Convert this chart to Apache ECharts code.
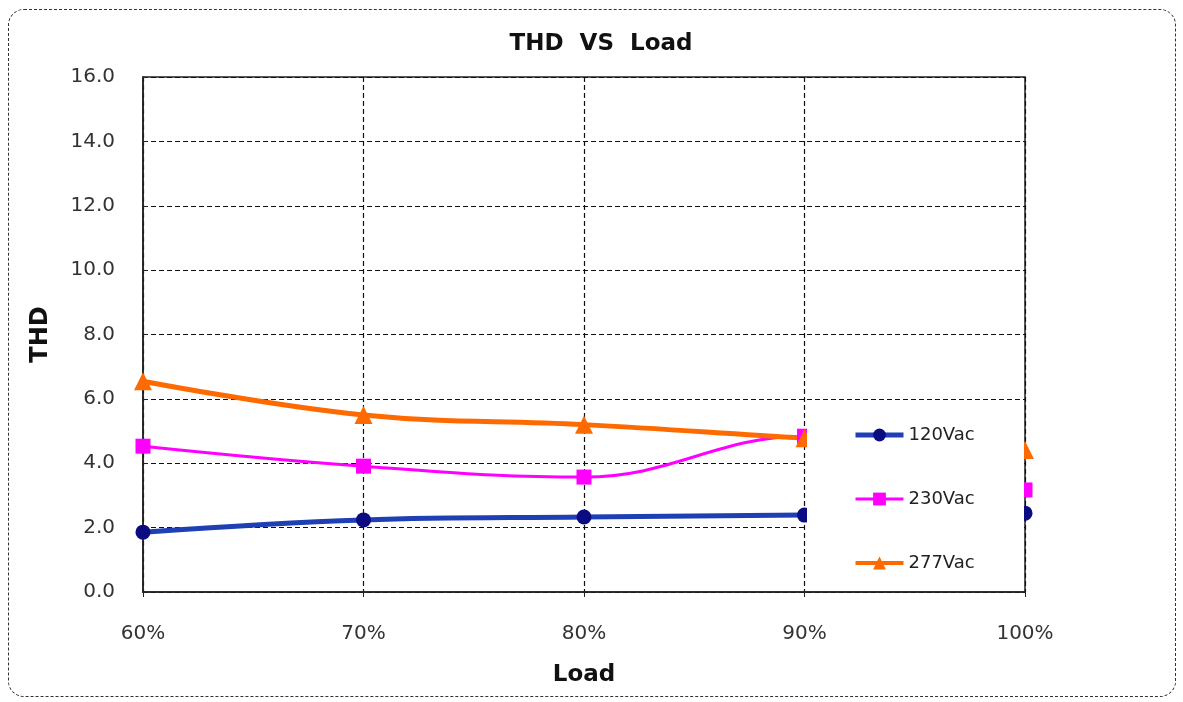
<!DOCTYPE html>
<html>
<head>
<meta charset="utf-8">
<title>THD VS Load</title>
<script src="https://cdn.jsdelivr.net/npm/echarts@6/dist/echarts.min.js"></script>
<style>
  html, body { margin: 0; padding: 0; background: #fff; }
  #chart { position: absolute; left: 0; top: 0; width: 1183px; height: 702px; }
  .frame {
    position: absolute; left: 8px; top: 9px; width: 1166px; height: 686px;
    border: 1.5px dashed #333; border-radius: 16px; pointer-events: none;
  }
</style>
</head>
<body>
<div id="chart"></div>
<div class="frame"></div>
<script>
const loads = ['60%', '70%', '80%', '90%', '100%']
const thd120 = [1.86, 2.24, 2.33, 2.39, 2.45]
const thd230 = [4.53, 3.91, 3.57, 4.84, 3.17]
const thd277 = [6.55, 5.50, 5.20, 4.78, 4.41]
const seriesNames = ['120Vac', '230Vac', '277Vac']

const font = 'DejaVu Sans'
const chart = echarts.init(document.getElementById('chart'))

const option = {
  animation: false,
  title: {
    text: 'THD  VS  Load',
    left: 596,
    textAlign: 'center',
    top: 28,
    textStyle: { fontFamily: font, fontSize: 23, fontWeight: 'bold', color: '#111' }
  },
  grid: {
    left: 143, right: 158, top: 77, bottom: 110,
    show: true, borderColor: '#222', borderWidth: 1.5
  },
  graphic: [{
    // white box behind the legend, it hides the last segment like the original
    type: 'rect', z: 10,
    shape: { x: 807, y: 400, width: 217, height: 191 },
    style: { fill: '#fff' }
  }],
  legend: {
    orient: 'vertical',
    left: 848, top: 421,
    z: 11,
    itemWidth: 48, itemHeight: 16, itemGap: 46,
    data: [
      { name: seriesNames[0], lineStyle: { width: 5 } },
      { name: seriesNames[1], lineStyle: { width: 3 } },
      { name: seriesNames[2], lineStyle: { width: 4 } }
    ],
    textStyle: { fontFamily: font, fontSize: 18, color: '#222' }
  },
  xAxis: {
    type: 'category',
    data: loads,
    boundaryGap: false,
    name: 'Load',
    nameLocation: 'middle',
    nameGap: 72,
    nameTextStyle: { fontFamily: font, fontSize: 23, fontWeight: 'bold', color: '#111' },
    axisLine: { lineStyle: { color: '#222', width: 1.5 } },
    axisTick: { show: true, length: 5, lineStyle: { color: '#222' } },
    axisLabel: { fontFamily: font, fontSize: 20, color: '#333', margin: 32 },
    splitLine: { show: true, lineStyle: { color: '#111', type: [5, 3], width: 1.2 } }
  },
  yAxis: {
    type: 'value',
    min: 0, max: 16, interval: 2,
    name: 'THD',
    nameLocation: 'middle',
    nameRotate: 90,
    nameGap: 90,
    nameTextStyle: { fontFamily: font, fontSize: 24, fontWeight: 'bold', color: '#111' },
    axisLine: { show: true, lineStyle: { color: '#222', width: 1.5 } },
    axisTick: { show: true, inside: true, length: 5, lineStyle: { color: '#222' } },
    axisLabel: {
      fontFamily: font, fontSize: 20, color: '#333', margin: 28,
      formatter: v => v.toFixed(1)
    },
    splitLine: { show: true, lineStyle: { color: '#111', type: [5, 3], width: 1.2 } }
  },
  series: [
    {
      name: seriesNames[0], type: 'line', data: thd120, smooth: 0.4,
      symbol: 'circle', symbolSize: 15,
      lineStyle: { color: '#1f3fb4', width: 5 },
      itemStyle: { color: '#0b0b82' }
    },
    {
      name: seriesNames[1], type: 'line', data: thd230, smooth: 0.4,
      symbol: 'rect', symbolSize: 15,
      lineStyle: { color: '#ff00ff', width: 3 },
      itemStyle: { color: '#ff00ff' }
    },
    {
      name: seriesNames[2], type: 'line', data: thd277, smooth: 0.4,
      symbol: 'triangle', symbolSize: 18,
      lineStyle: { color: '#ff6a00', width: 5 },
      itemStyle: { color: '#ff6a00' }
    }
  ]
}

option && chart.setOption(option)
</script>
</body>
</html>
